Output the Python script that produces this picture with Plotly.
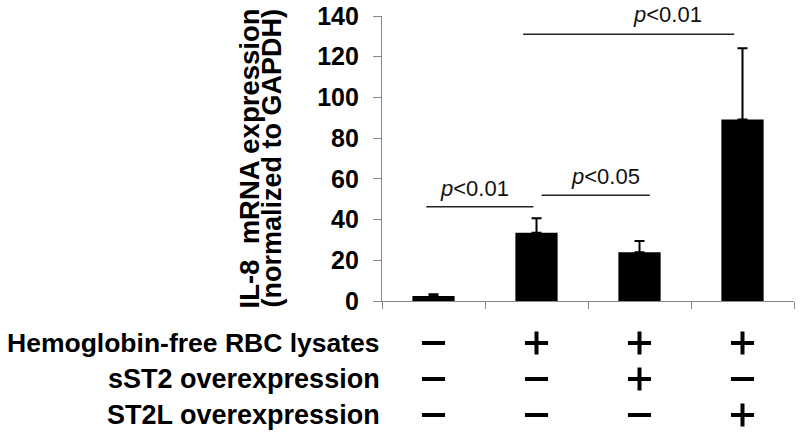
import plotly.graph_objects as go

# data
groups = ['g1', 'g2', 'g3', 'g4']
means = [2.5, 33.5, 23.9, 89.2]
errors = [0.8, 7.2, 5.6, 34.9]
y_ticks = [0, 20, 40, 60, 80, 100, 120, 140]

# treatment table (+ / -)
row_labels = ['Hemoglobin-free RBC lysates', 'sST2 overexpression', 'ST2L overexpression']
hb_lysate = ['−', '+', '+', '+']
sst2 = ['−', '−', '+', '−']
st2l = ['−', '−', '−', '+']

# significance brackets: (start, end, height, label x, label y, label)
comparisons = [
    (-0.07, 0.97, 46.3, 0.40, 55.5, '<i>p</i>&lt;0.01'),
    (1.05, 2.10, 51.9, 1.67, 61.0, '<i>p</i>&lt;0.05'),
    (0.87, 2.92, 131.0, 2.27, 140.5, '<i>p</i>&lt;0.01'),
]

FONT = 'Liberation Sans, Arial, sans-serif'
W, H = 800, 436
L, R, T, B = 382, 6, 16, 0
plot_w = W - L - R
plot_h = H - T - B
axis_px = 301  # screen row of the bar baseline

def px_x(px):  # screen pixel -> paper x
    return (px - L) / plot_w

def px_y(py):  # screen pixel -> paper y
    return (H - B - py) / plot_h

bar_dom = [px_y(axis_px), 1]

fig = go.Figure()

fig.add_trace(go.Bar(
    x=groups, y=means,
    width=0.41,
    marker=dict(color='black', line=dict(width=0)),
    error_y=dict(type='data', symmetric=False, array=errors,
                 arrayminus=[0] * len(errors),
                 color='black', thickness=2, width=5),
))

# +/- table as marks on a second y axis below the bars
row_y = [343, 379, 415]
row_gap = row_y[1] - row_y[0]
sym = {'+': 'cross-thin', '−': 'line-ew'}
for i, signs in enumerate([hb_lysate, sst2, st2l]):
    fig.add_trace(go.Scatter(
        x=groups, y=[i] * len(groups), yaxis='y2', mode='markers',
        marker=dict(symbol=[sym[s] for s in signs], size=16.5,
                    line=dict(color='black', width=4)),
        hoverinfo='skip',
    ))

shapes = []
annotations = []
for x0, x1, yv, tx, ty, lab in comparisons:
    shapes.append(dict(type='line', xref='x', yref='y', x0=x0, x1=x1, y0=yv, y1=yv,
                       line=dict(color='#222222', width=1.5)))
    # labels in paper space so the top one is not hidden past the range
    ypx = axis_px - ty * (axis_px - T) / 140
    annotations.append(dict(xref='x', yref='paper', x=tx, y=px_y(ypx), text=lab,
                            showarrow=False, xanchor='center', yanchor='middle',
                            font=dict(family=FONT, size=22, color='#111111')))

# y axis title, two tight lines
mid = px_y((T + axis_px) / 2)
annotations.append(dict(xref='paper', yref='paper', x=px_x(249), y=mid, textangle=-90,
                        text='<b>IL-8  mRNA expression</b>', showarrow=False,
                        xanchor='center', yanchor='middle',
                        font=dict(family=FONT, size=27.5, color='black')))
annotations.append(dict(xref='paper', yref='paper', x=px_x(271), y=mid, textangle=-90,
                        text='<b>(normalized to GAPDH)</b>', showarrow=False,
                        xanchor='center', yanchor='middle',
                        font=dict(family=FONT, size=27, color='black')))

# treatment row labels
annotations.append(dict(xref='paper', yref='paper', x=px_x(5), y=px_y(row_y[0]),
                        text='<b>' + row_labels[0] + '</b>', showarrow=False,
                        xanchor='left', yanchor='middle',
                        font=dict(family=FONT, size=26.5, color='black')))
for lab, yy in zip(row_labels[1:], row_y[1:]):
    annotations.append(dict(xref='paper', yref='paper', x=px_x(382), y=px_y(yy),
                            text='<b>' + lab + '</b>', showarrow=False,
                            xanchor='right', yanchor='middle',
                            font=dict(family=FONT, size=27, color='black')))

# second axis range: row 0 sits at 343px, one row per 36px
dom2_top = 0.3
top_px = H - dom2_top * plot_h
r_lo = (H - row_y[0]) / row_gap
r_hi = (top_px - row_y[0]) / row_gap

fig.update_layout(
    width=W, height=H,
    margin=dict(l=L, r=R, t=T, b=B, autoexpand=False),
    plot_bgcolor='white', paper_bgcolor='white',
    showlegend=False,
    shapes=shapes,
    annotations=annotations,
    xaxis=dict(type='category', range=[-0.5, 3.5], showticklabels=False,
               tickson='boundaries', ticks='outside', ticklen=7, tickcolor='#888888',
               tickwidth=1.2, showline=True, linecolor='#888888', linewidth=1.2,
               showgrid=False, zeroline=False, anchor='y'),
    yaxis=dict(domain=bar_dom, range=[0, 140], tickvals=y_ticks, ticks='outside',
               ticklen=8, tickcolor='#888888', tickwidth=1.2, showline=True,
               linecolor='#888888', linewidth=1.2, showgrid=False, zeroline=False,
               ticklabelstandoff=9, ticklabeloverflow='allow',
               tickfont=dict(family=FONT, size=25, color='black', weight='bold')),
    yaxis2=dict(domain=[0, dom2_top], range=[r_lo, r_hi], visible=False,
                showgrid=False, zeroline=False),
)

# drop the default page margin so the figure sits flush with the window
fig.write_html("out.html", config={'displayModeBar': False},
               post_script="document.body.style.margin='0';")
